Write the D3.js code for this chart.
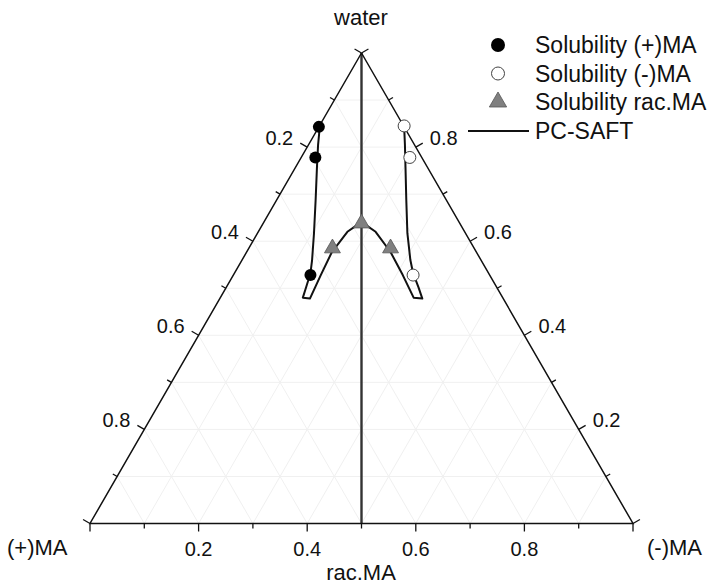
<!DOCTYPE html>
<html>
<head>
<meta charset="utf-8">
<script src="https://cdn.jsdelivr.net/npm/d3@7"></script>
<style>
  body { margin: 0; background: #fff; }
  text { font-family: "Liberation Sans", Arial, sans-serif; fill: #111; }
</style>
</head>
<body>
<svg id="chart" width="714" height="586"></svg>
<script>
// every point is [water, (-)MA] mole fraction, (+)MA = 1 - water - (-)MA
let solPlus = [[0.843, 0.000], [0.778, 0.026], [0.528, 0.142]]
let solMinus = [[0.845, 0.156], [0.778, 0.200], [0.528, 0.331]]
let solRac = [[0.638, 0.181], [0.585, 0.154], [0.585, 0.261]]

// PC-SAFT curves
let saftLeft = [[0.847, 0.000], [0.804, 0.018], [0.758, 0.039], [0.687, 0.072], [0.617, 0.104],
  [0.560, 0.129], [0.532, 0.140], [0.502, 0.147], [0.480, 0.152], [0.478, 0.166],
  [0.528, 0.161], [0.577, 0.157], [0.620, 0.164], [0.632, 0.173], [0.639, 0.180]]
let saftRight = [[0.639, 0.180], [0.632, 0.195], [0.620, 0.216], [0.577, 0.265], [0.528, 0.312],
  [0.480, 0.356], [0.478, 0.373], [0.502, 0.354], [0.532, 0.329], [0.560, 0.310],
  [0.617, 0.276], [0.687, 0.239], [0.758, 0.202], [0.804, 0.178], [0.845, 0.156]]

let tickVals = d3.range(0, 1.0001, 0.1)
let labelVals = [0.2, 0.4, 0.6, 0.8]
let legendNames = ["Solubility (+)MA", "Solubility (-)MA", "Solubility rac.MA", "PC-SAFT"]

var svg = d3.select("#chart")

var x = d3.scaleLinear().domain([0, 1]).range([90, 633])
var y = d3.scaleLinear().domain([0, 1]).range([523.5, 53])

// ternary -> screen
function px(w, m) { return [x(m + w / 2), y(w)] }
var line = d3.line().x(d => px(d[0], d[1])[0]).y(d => px(d[0], d[1])[1])

// faint grid
var grid = []
d3.range(1, 10).forEach(k => {
  let v = k / 10
  grid.push([[v, 0], [v, 1 - v]])
  grid.push([[0, v], [1 - v, v]])
  grid.push([[0, 1 - v], [1 - v, 0]])
})
svg.selectAll(".grid").data(grid).enter().append("path")
  .attr("class", "grid")
  .attr("d", line)
  .attr("fill", "none")
  .attr("stroke", "#f0f0f0")
  .attr("stroke-width", 1)

// rac line in the middle
svg.append("path")
  .attr("d", line([[0, 0.5], [1, 0]]))
  .attr("stroke", "#333")
  .attr("stroke-width", 2.4)

// edges
svg.append("path")
  .attr("d", line([[1, 0], [0, 0], [0, 1], [1, 0]]))
  .attr("fill", "none")
  .attr("stroke", "#111")
  .attr("stroke-width", 1.5)

// ticks: left = (+)MA, right = water, bottom = rac.MA
var axes = [
  { pos: v => px(1 - v, 0), dir: [-0.866, -0.5] },
  { pos: v => px(v, 1 - v), dir: [0.866, -0.5] },
  { pos: v => px(0, v), dir: [0, 1] }
]
axes.forEach((a, i) => {
  svg.selectAll(".tick" + i).data(tickVals).enter().append("line")
    .attr("class", "tick" + i)
    .attr("x1", d => a.pos(d)[0])
    .attr("y1", d => a.pos(d)[1])
    .attr("x2", (d, j) => a.pos(d)[0] + a.dir[0] * (j % 2 ? 5 : 8))
    .attr("y2", (d, j) => a.pos(d)[1] + a.dir[1] * (j % 2 ? 5 : 8))
    .attr("stroke", "#111")
    .attr("stroke-width", 1.3)
})

var fmt = d3.format(".1f")
svg.selectAll(".lblL").data(labelVals).enter().append("text")
  .attr("x", d => axes[0].pos(d)[0] - 14)
  .attr("y", d => axes[0].pos(d)[1] - 9)
  .attr("text-anchor", "end")
  .attr("dominant-baseline", "central")
  .style("font-size", "20px")
  .text(fmt)
svg.selectAll(".lblR").data(labelVals).enter().append("text")
  .attr("x", d => axes[1].pos(d)[0] + 14)
  .attr("y", d => axes[1].pos(d)[1] - 9)
  .attr("dominant-baseline", "central")
  .style("font-size", "20px")
  .text(fmt)
svg.selectAll(".lblB").data(labelVals).enter().append("text")
  .attr("x", d => axes[2].pos(d)[0])
  .attr("y", 556)
  .attr("text-anchor", "middle")
  .style("font-size", "20px")
  .text(fmt)

// corner / axis titles
svg.append("text").attr("x", 361).attr("y", 25).attr("text-anchor", "middle").style("font-size", "22px").text("water")
svg.append("text").attr("x", 7).attr("y", 555).style("font-size", "22px").text("(+)MA")
svg.append("text").attr("x", 647).attr("y", 555).style("font-size", "22px").text("(-)MA")
svg.append("text").attr("x", 361).attr("y", 580).attr("text-anchor", "middle").style("font-size", "22px").text("rac.MA")

// PC-SAFT
svg.selectAll(".saft").data([saftLeft, saftRight]).enter().append("path")
  .attr("class", "saft")
  .attr("d", line)
  .attr("fill", "none")
  .attr("stroke", "#111")
  .attr("stroke-width", 2)
  .attr("stroke-linejoin", "round")

var tri = d3.symbol().type(d3.symbolTriangle)

svg.selectAll(".rac").data(solRac).enter().append("path")
  .attr("d", tri.size(110)())
  .attr("transform", d => "translate(" + px(d[0], d[1]) + ")")
  .attr("fill", "#808080")
  .attr("stroke", "#555")
  .attr("stroke-width", 0.8)
svg.selectAll(".plus").data(solPlus).enter().append("circle")
  .attr("cx", d => px(d[0], d[1])[0])
  .attr("cy", d => px(d[0], d[1])[1])
  .attr("r", 6)
  .attr("fill", "#000")
svg.selectAll(".minus").data(solMinus).enter().append("circle")
  .attr("cx", d => px(d[0], d[1])[0])
  .attr("cy", d => px(d[0], d[1])[1])
  .attr("r", 6)
  .attr("fill", "#fff")
  .attr("stroke", "#444")
  .attr("stroke-width", 1)

// legend
var leg = svg.append("g")
leg.selectAll("text").data(legendNames).enter().append("text")
  .attr("x", 535)
  .attr("y", (d, i) => 45 + i * 28.5)
  .attr("dominant-baseline", "central")
  .style("font-size", "23px")
  .text(d => d)
leg.append("circle").attr("cx", 498).attr("cy", 45).attr("r", 7).attr("fill", "#000")
leg.append("circle").attr("cx", 498).attr("cy", 73.5).attr("r", 6.5).attr("fill", "#fff").attr("stroke", "#444")
leg.append("path").attr("d", tri.size(130)()).attr("transform", "translate(498,102)")
  .attr("fill", "#808080").attr("stroke", "#555").attr("stroke-width", 0.8)
leg.append("line").attr("x1", 468).attr("x2", 529).attr("y1", 131).attr("y2", 131)
  .attr("stroke", "#111").attr("stroke-width", 2)
</script>
</body>
</html>
